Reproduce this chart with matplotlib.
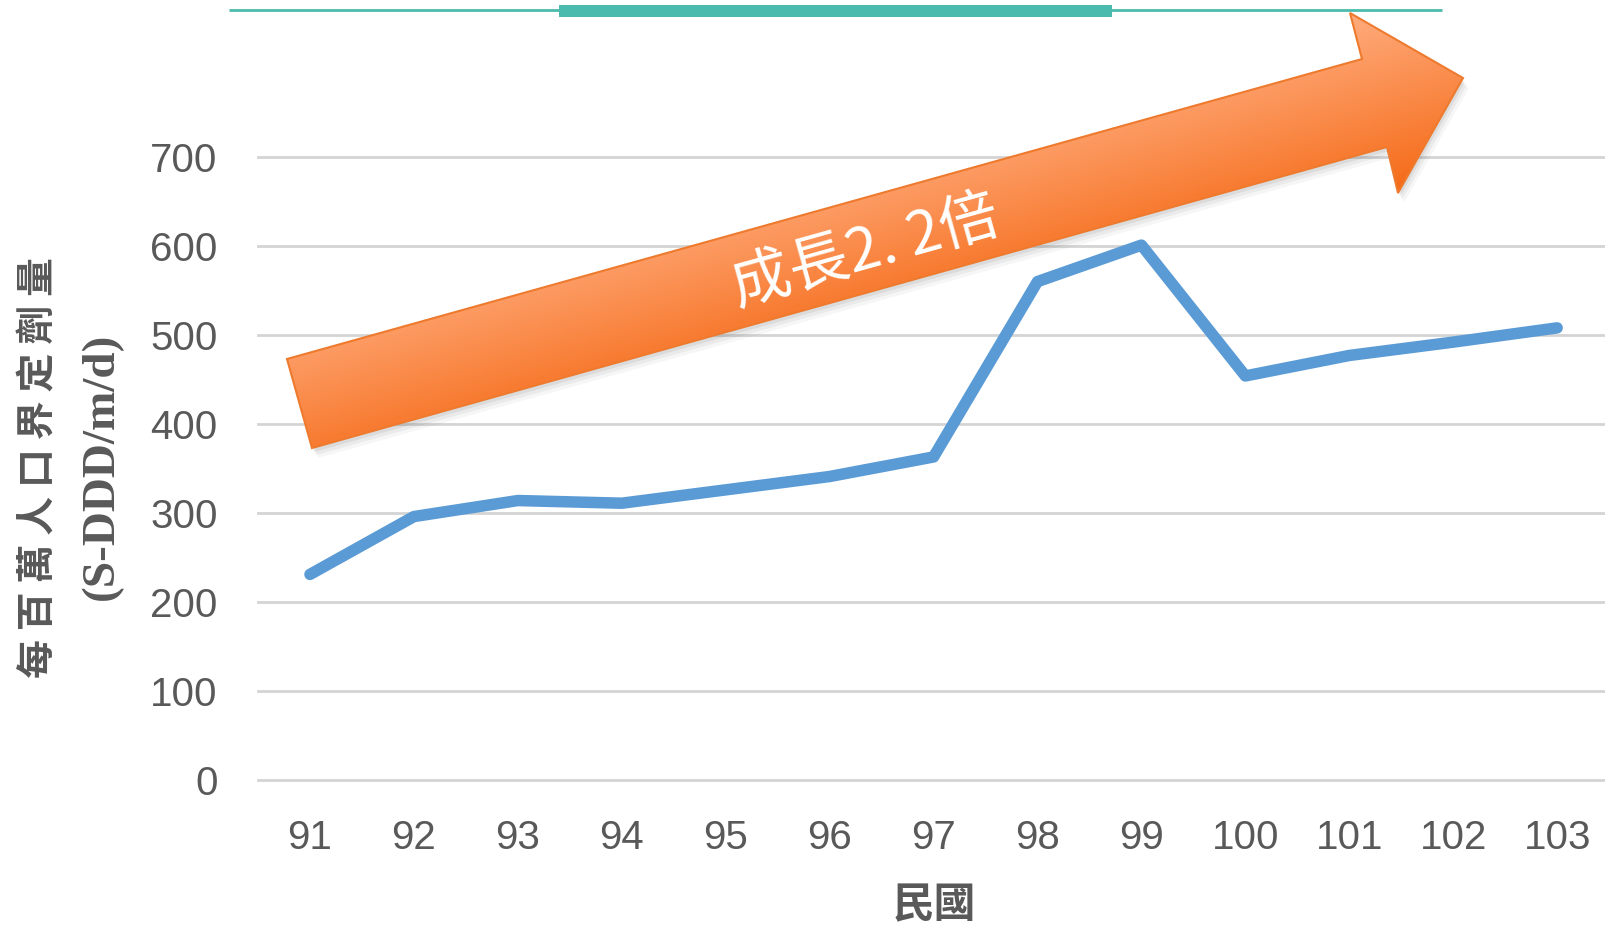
import matplotlib
matplotlib.use('Agg')
import matplotlib.pyplot as plt
import numpy as np
from matplotlib import font_manager as fm
from matplotlib.patches import Polygon, Rectangle

# ---- data ----
years = [91, 92, 93, 94, 95, 96, 97, 98, 99, 100, 101, 102, 103]
values = [231, 296, 314, 311, 326, 341, 363, 560, 601, 454, 477, 492, 508]
yticks = [0, 100, 200, 300, 400, 500, 600, 700]
ylabel_cn = "每百萬人口界定劑量"
ylabel_unit = "(S-DDD/m/d)"
xlabel_txt = "民國"
arrow_text = "成長2. 2倍"

W, H = 1606, 927
names = {f.name for f in fm.fontManager.ttflist}
tick_font = 'Liberation Sans Narrow' if 'Liberation Sans Narrow' in names else 'Liberation Sans'
tick_size = 32 if tick_font == 'Liberation Sans Narrow' else 29
cjk = ['Noto Sans CJK TC', 'DejaVu Sans']

fig = plt.figure(figsize=(W / 100, H / 100), dpi=100)
fig.patch.set_facecolor('white')

def fx(px):
    return px / W

def fy(py):
    return 1 - py / H

ax = fig.add_axes([258 / W, 1 - 780 / H, 1 - 258 / W, (780 - 157) / H])
ax.set_xlim(90.5, 103.47)
ax.set_ylim(0, 700)
ax.plot(years, values, color='#5B9BD5', lw=8.3, solid_capstyle='round',
        solid_joinstyle='round', clip_on=False, zorder=3)
ax.set_yticks(yticks)
ax.set_xticks(years)
ax.set_xticklabels([str(y) for y in years])
ax.grid(axis='y', color='#D4D4D4', lw=2)
ax.grid(axis='x', visible=False)
for gl in ax.get_ygridlines():
    gl.set_clip_on(False)
for s in ax.spines.values():
    s.set_visible(False)
ax.tick_params(axis='both', length=0, labelsize=tick_size, labelcolor='#595959')
ax.tick_params(axis='x', pad=28)
ax.tick_params(axis='y', pad=29)
for lab in ax.get_xticklabels() + ax.get_yticklabels():
    lab.set_family(tick_font)

# axis titles
fig.text(fx(39), fy(468), " ".join(ylabel_cn), rotation=90, ha='center', va='center',
         fontsize=28, fontweight='bold', color='#595959', family=cjk)
fig.text(fx(102), fy(466), ylabel_unit, rotation=90, ha='center', va='center',
         fontsize=34, fontweight='bold', color='#595959', family='Liberation Serif')
fig.text(fx(934), fy(905), xlabel_txt, ha='center', va='center',
         fontsize=30, fontweight='bold', color='#595959', family=cjk)

# ---- overlay (pixel coordinates) ----
ov = fig.add_axes([0, 0, 1, 1])
ov.set_xlim(0, W)
ov.set_ylim(H, 0)
ov.axis('off')

teal = '#4BBBAD'
ov.plot([229, 1442], [10, 10], color=teal, lw=2.0, solid_capstyle='butt')
ov.add_patch(Rectangle((559, 4.5), 553, 12.5, color=teal, lw=0))

arrow_pts = np.array([(287, 359), (1362, 59), (1350, 13), (1463, 78),
                      (1398, 193), (1387, 147), (312, 448)], dtype=float)

# shadow
for dx, dy, a in [(2, 4, 0.10), (4, 7, 0.08), (6, 10, 0.05)]:
    ov.add_patch(Polygon(arrow_pts + [dx, dy], closed=True, facecolor='#606060',
                         edgecolor='none', alpha=a, zorder=2))

# gradient fill
u = np.array([1075.0, -300.0]); u /= np.linalg.norm(u)
n = np.array([-u[1], u[0]])
if n[1] < 0:
    n = -n
vs = arrow_pts @ n
vmin, vmax = vs.min(), vs.max()
yy, xx = np.mgrid[0:H, 0:W] + 0.5
t = np.clip(((xx * n[0] + yy * n[1]) - vmin) / (vmax - vmin), 0, 1)
c0 = np.array([255, 172, 126]) / 255
c1 = np.array([245, 106, 22]) / 255
img = c0[None, None, :] * (1 - t[..., None]) + c1[None, None, :] * t[..., None]
im = ov.imshow(img, extent=[0, W, H, 0], aspect='auto', zorder=3, interpolation='bilinear')
clip_poly = Polygon(arrow_pts, closed=True, transform=ov.transData)
im.set_clip_path(clip_poly)
ov.add_patch(Polygon(arrow_pts, closed=True, facecolor='none', edgecolor='#EE7A2E',
                     lw=1.5, zorder=4))
ov.set_xlim(0, W)
ov.set_ylim(H, 0)

ov.text(866, 252, arrow_text, rotation=15.6, rotation_mode='anchor', ha='center',
        va='center', color='white', fontsize=43, family=cjk, zorder=5)

fig.savefig('out.png', dpi=100)
